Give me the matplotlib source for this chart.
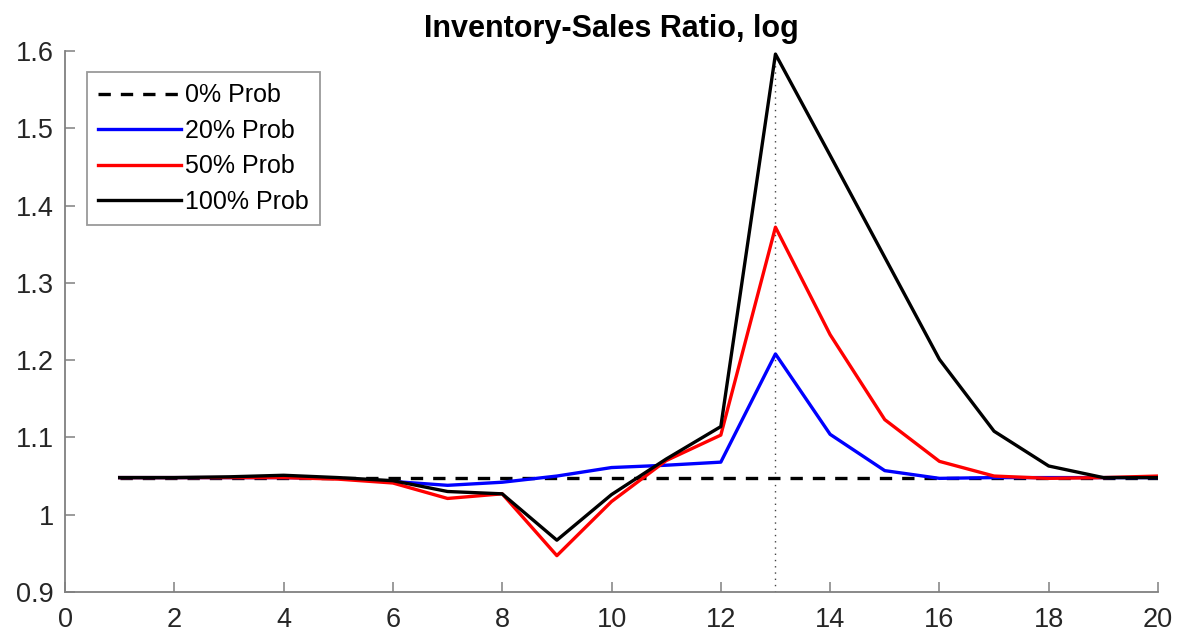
import numpy as np
import matplotlib
matplotlib.use("Agg")
import matplotlib.pyplot as plt
from matplotlib.ticker import FuncFormatter

plt.rcParams['font.family'] = ['Liberation Sans', 'DejaVu Sans']

# horizon (quarters)
periods = np.arange(1, 21)

# inventory-sales ratio, log, by probability of the shock
prob_0 = [1.048] * 20
prob_20 = [1.048, 1.048, 1.048, 1.048, 1.047, 1.043, 1.038, 1.042, 1.050, 1.061,
           1.064, 1.068, 1.208, 1.104, 1.057, 1.047, 1.048, 1.048, 1.048, 1.048]
prob_50 = [1.048, 1.048, 1.048, 1.048, 1.046, 1.041, 1.021, 1.027, 0.947, 1.017,
           1.070, 1.103, 1.372, 1.233, 1.123, 1.069, 1.050, 1.047, 1.048, 1.050]
prob_100 = [1.048, 1.048, 1.049, 1.051, 1.048, 1.044, 1.030, 1.027, 0.967, 1.026,
            1.072, 1.114, 1.596, 1.465, 1.333, 1.201, 1.108, 1.063, 1.048, 1.048]

shock_period = 13

axis_grey = '#262626'
spine_grey = '#808080'

fig = plt.figure(figsize=(11.82, 6.39), dpi=100)
ax = fig.add_axes([0.055, 0.0736, 0.9247, 0.8466])

ax.plot([shock_period, shock_period], [0.9, 1.6], color='#444444', lw=1, ls=(0, (1, 3.5)))
ax.plot(periods, prob_0, color='black', lw=2.4, ls=(0, (3.7, 3)), label='0% Prob')
ax.plot(periods, prob_20, color='blue', lw=2.4, label='20% Prob')
ax.plot(periods, prob_50, color='red', lw=2.4, label='50% Prob')
ax.plot(periods, prob_100, color='black', lw=2.4, label='100% Prob')

ax.set_xlim(0, 20)
ax.set_ylim(0.9, 1.6)
ax.set_xticks(np.arange(0, 21, 2))
ax.set_yticks(np.arange(0.9, 1.61, 0.1))
ax.yaxis.set_major_formatter(FuncFormatter(lambda v, p: ('%.1f' % v).rstrip('0').rstrip('.')))

for side in ['top', 'right']:
    ax.spines[side].set_visible(False)
for side in ['left', 'bottom']:
    ax.spines[side].set_color(spine_grey)
    ax.spines[side].set_linewidth(1.3)
ax.tick_params(direction='in', length=7.5, width=1.1, color=spine_grey,
               labelsize=19.5, labelcolor=axis_grey)
ax.tick_params(axis='x', pad=11)
ax.tick_params(axis='y', pad=8)

ax.set_title('Inventory-Sales Ratio, log', fontsize=22, fontweight='bold', pad=10)

leg = ax.legend(loc='upper left', bbox_to_anchor=(0.02, 0.961), fontsize=18,
                frameon=True, fancybox=False, handlelength=3.3, handletextpad=0.18,
                borderpad=0.45, labelspacing=0.46, borderaxespad=0)
leg.get_frame().set_edgecolor(spine_grey)
leg.get_frame().set_linewidth(1.3)

fig.savefig('out.png', dpi=100)
